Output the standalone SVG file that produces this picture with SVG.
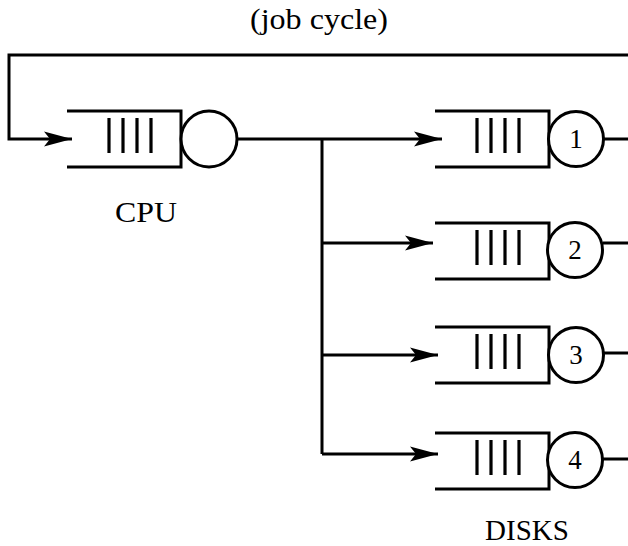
<svg xmlns="http://www.w3.org/2000/svg" width="628" height="546" viewBox="0 0 628 546">
<style>
.ln{fill:none;stroke:#000;stroke-width:3}
.bar{stroke:#000;stroke-width:3.2}
.srv{fill:#fff;stroke:#000;stroke-width:3}
.t{font-family:"Liberation Serif","Times New Roman",serif;fill:#000}
.lbl{font-size:29px}
.dig{font-size:27px;text-anchor:middle}
</style>
<defs>
<marker id="ah" viewBox="0 0 28 16" refX="28" refY="8" markerWidth="28" markerHeight="16" markerUnits="userSpaceOnUse" orient="auto">
<path d="M0,0.5 L28,8 L0,15.5 L6,8 Z" fill="#000"/>
</marker>
<g id="q">
<path class="ln" d="M0,0 H114 V56 H0"/>
<line class="bar" x1="42" y1="7" x2="42" y2="42"/>
<line class="bar" x1="56" y1="7" x2="56" y2="42"/>
<line class="bar" x1="70" y1="7" x2="70" y2="42"/>
<line class="bar" x1="84" y1="7" x2="84" y2="42"/>
</g>
</defs>
<g id="connectors">
<path class="ln" d="M628,55 H9 V139 H72" marker-end="url(#ah)"/>
<path class="ln" d="M237,139 H442" marker-end="url(#ah)"/>
<path class="ln" d="M322,139 V454"/>
<path class="ln" d="M322,243 H433" marker-end="url(#ah)"/>
<path class="ln" d="M322,355 H438" marker-end="url(#ah)"/>
<path class="ln" d="M322,454 H438" marker-end="url(#ah)"/>
<path class="ln" d="M603,139 H628"/>
<path class="ln" d="M603,243 H628"/>
<path class="ln" d="M603,353 H628"/>
<path class="ln" d="M603,459 H628"/>
</g>
<g id="cpu">
<use href="#q" x="67" y="111"/>
<circle class="srv" cx="209" cy="139" r="28"/>
<text class="t lbl" x="146" y="222" text-anchor="middle" textLength="62" lengthAdjust="spacingAndGlyphs">CPU</text>
</g>
<g id="disk1">
<use href="#q" x="435" y="111"/>
<circle class="srv" cx="576" cy="139" r="27.5"/>
<text class="t dig" x="576" y="148">1</text>
</g>
<g id="disk2">
<use href="#q" x="435" y="223"/>
<circle class="srv" cx="575" cy="250" r="27.5"/>
<text class="t dig" x="575" y="259">2</text>
</g>
<g id="disk3">
<use href="#q" x="435" y="327"/>
<circle class="srv" cx="576" cy="355" r="27.5"/>
<text class="t dig" x="576" y="364">3</text>
</g>
<g id="disk4">
<use href="#q" x="435" y="433"/>
<circle class="srv" cx="575" cy="460" r="27.5"/>
<text class="t dig" x="575" y="469">4</text>
</g>
<text class="t lbl" x="319" y="29" text-anchor="middle" textLength="138" lengthAdjust="spacingAndGlyphs">(job cycle)</text>
<text class="t lbl" x="527" y="540" text-anchor="middle">DISKS</text>
</svg>
